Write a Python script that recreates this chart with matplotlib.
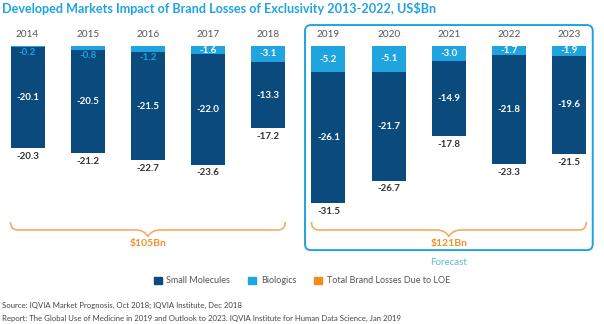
import numpy as np
import matplotlib
matplotlib.use("Agg")
import matplotlib.pyplot as plt
from matplotlib.patches import Patch, FancyBboxPatch, PathPatch
from matplotlib.path import Path

plt.rcParams['font.family'] = ['Lato', 'DejaVu Sans']

years = ['2014', '2015', '2016', '2017', '2018', '2019', '2020', '2021', '2022', '2023']
small_molecules = [20.1, 20.5, 21.5, 22.0, 13.3, 26.1, 21.7, 14.9, 21.8, 19.6]
biologics = [0.2, 0.8, 1.2, 1.6, 3.1, 5.2, 5.1, 3.0, 1.7, 1.9]
totals = [20.3, 21.2, 22.7, 23.6, 17.2, 31.5, 26.7, 17.8, 23.3, 21.5]
period_totals = ['$105Bn', '$121Bn']

NAVY = '#0a4a7c'
LIGHT = '#1fa4df'
ORANGE = '#f0902a'
BRACE = '#f4ad62'

fig = plt.figure(figsize=(6.04, 3.24), dpi=100)
ax = fig.add_axes([0, 0, 1, 1])
ax.set_xlim(-0.457, 9.577)
ax.set_ylim(-55.3, 9.15)
ax.axis('off')

x = np.arange(len(years))
w = 0.565
sm = -np.array(small_molecules)
bio = -np.array(biologics)

ax.bar(x, bio, width=w, color=LIGHT, label='Biologics')
ax.bar(x, sm, width=w, bottom=bio, color=NAVY, label='Small Molecules')

for i in x:
    ax.text(i, 2.2, years[i], ha='center', va='center', fontsize=7.2, color='#555555')
    # biologics label: centred if the segment is tall enough, else just under it
    if biologics[i] >= 1.5:
        ax.text(i, bio[i] / 2, f'{bio[i]:.1f}', ha='center', va='center',
                fontsize=7, color='white', fontweight='bold')
    else:
        ax.text(i, bio[i] - 1.0, f'{bio[i]:.1f}', ha='center', va='center',
                fontsize=7, color=LIGHT, fontweight='bold')
    ax.text(i, bio[i] + sm[i] / 2, f'{sm[i]:.1f}', ha='center', va='center',
            fontsize=7, color='white', fontweight='bold')
    ax.text(i, bio[i] + sm[i] - 1.6, f'{-totals[i]:.1f}', ha='center', va='center',
            fontsize=7, color='#333333', fontweight='bold')


def brace(x0, x1, top, base, tip):
    xc = (x0 + x1) / 2
    r = 0.12
    n = 0.2
    verts = [(x0, top), (x0, base), (x0 + r, base),
             (xc - n, base), (xc - n * 0.3, base), (xc, tip),
             (xc + n * 0.3, base), (xc + n, base),
             (x1 - r, base), (x1, base), (x1, top)]
    codes = [Path.MOVETO, Path.CURVE3, Path.CURVE3,
             Path.LINETO, Path.CURVE3, Path.CURVE3,
             Path.CURVE3, Path.CURVE3,
             Path.LINETO, Path.CURVE3, Path.CURVE3]
    ax.add_patch(PathPatch(Path(verts, codes), fill=False, edgecolor=BRACE, lw=1.2))


groups = [(0, 4), (5, 9)]
for (a, b), label in zip(groups, period_totals):
    brace(a - w / 2, b + w / 2, -35.0, -36.6, -37.9)
    ax.text((a + b) / 2, -39.3, label, ha='center', va='center', fontsize=7.5,
            color=ORANGE, fontweight='bold')

# forecast frame
box = FancyBboxPatch((4.61, -40.6), 9.39 - 4.61, 40.6 + 4.17,
                     boxstyle='round,pad=0,rounding_size=0.1', mutation_aspect=11.9,
                     fill=False, edgecolor=LIGHT, lw=1.4)
ax.add_patch(box)
ax.text(7, -43.0, 'Forecast', ha='center', va='center', fontsize=7, color='#5bb8e0')

fig.text(0.004, 0.975, 'Developed Markets Impact of Brand Losses of Exclusivity 2013-2022, US$Bn',
         ha='left', va='center', fontsize=9.1, color=LIGHT, fontweight='bold')

handles = [Patch(color=NAVY, label='Small Molecules'),
           Patch(color=LIGHT, label='Biologics'),
           Patch(color='#f28c1e', label='Total Brand Losses Due to LOE')]
ax.legend(handles=handles, loc='center', bbox_to_anchor=(0.50, 0.133), ncol=3,
          frameon=False, fontsize=6.5, labelcolor='#555555', handlelength=0.9,
          handleheight=0.9, handletextpad=0.5, columnspacing=2.0)

fig.text(0.003, 0.058, 'Source: IQVIA Market Prognosis, Oct 2018; IQVIA Institute, Dec 2018',
         ha='left', va='center', fontsize=5.6, color='#444444')
fig.text(0.003, 0.018, 'Report: The Global Use of Medicine in 2019 and Outlook to 2023. IQVIA Institute for Human Data Science, Jan 2019',
         ha='left', va='center', fontsize=5.6, color='#444444')

fig.savefig('out.png', dpi=100)
